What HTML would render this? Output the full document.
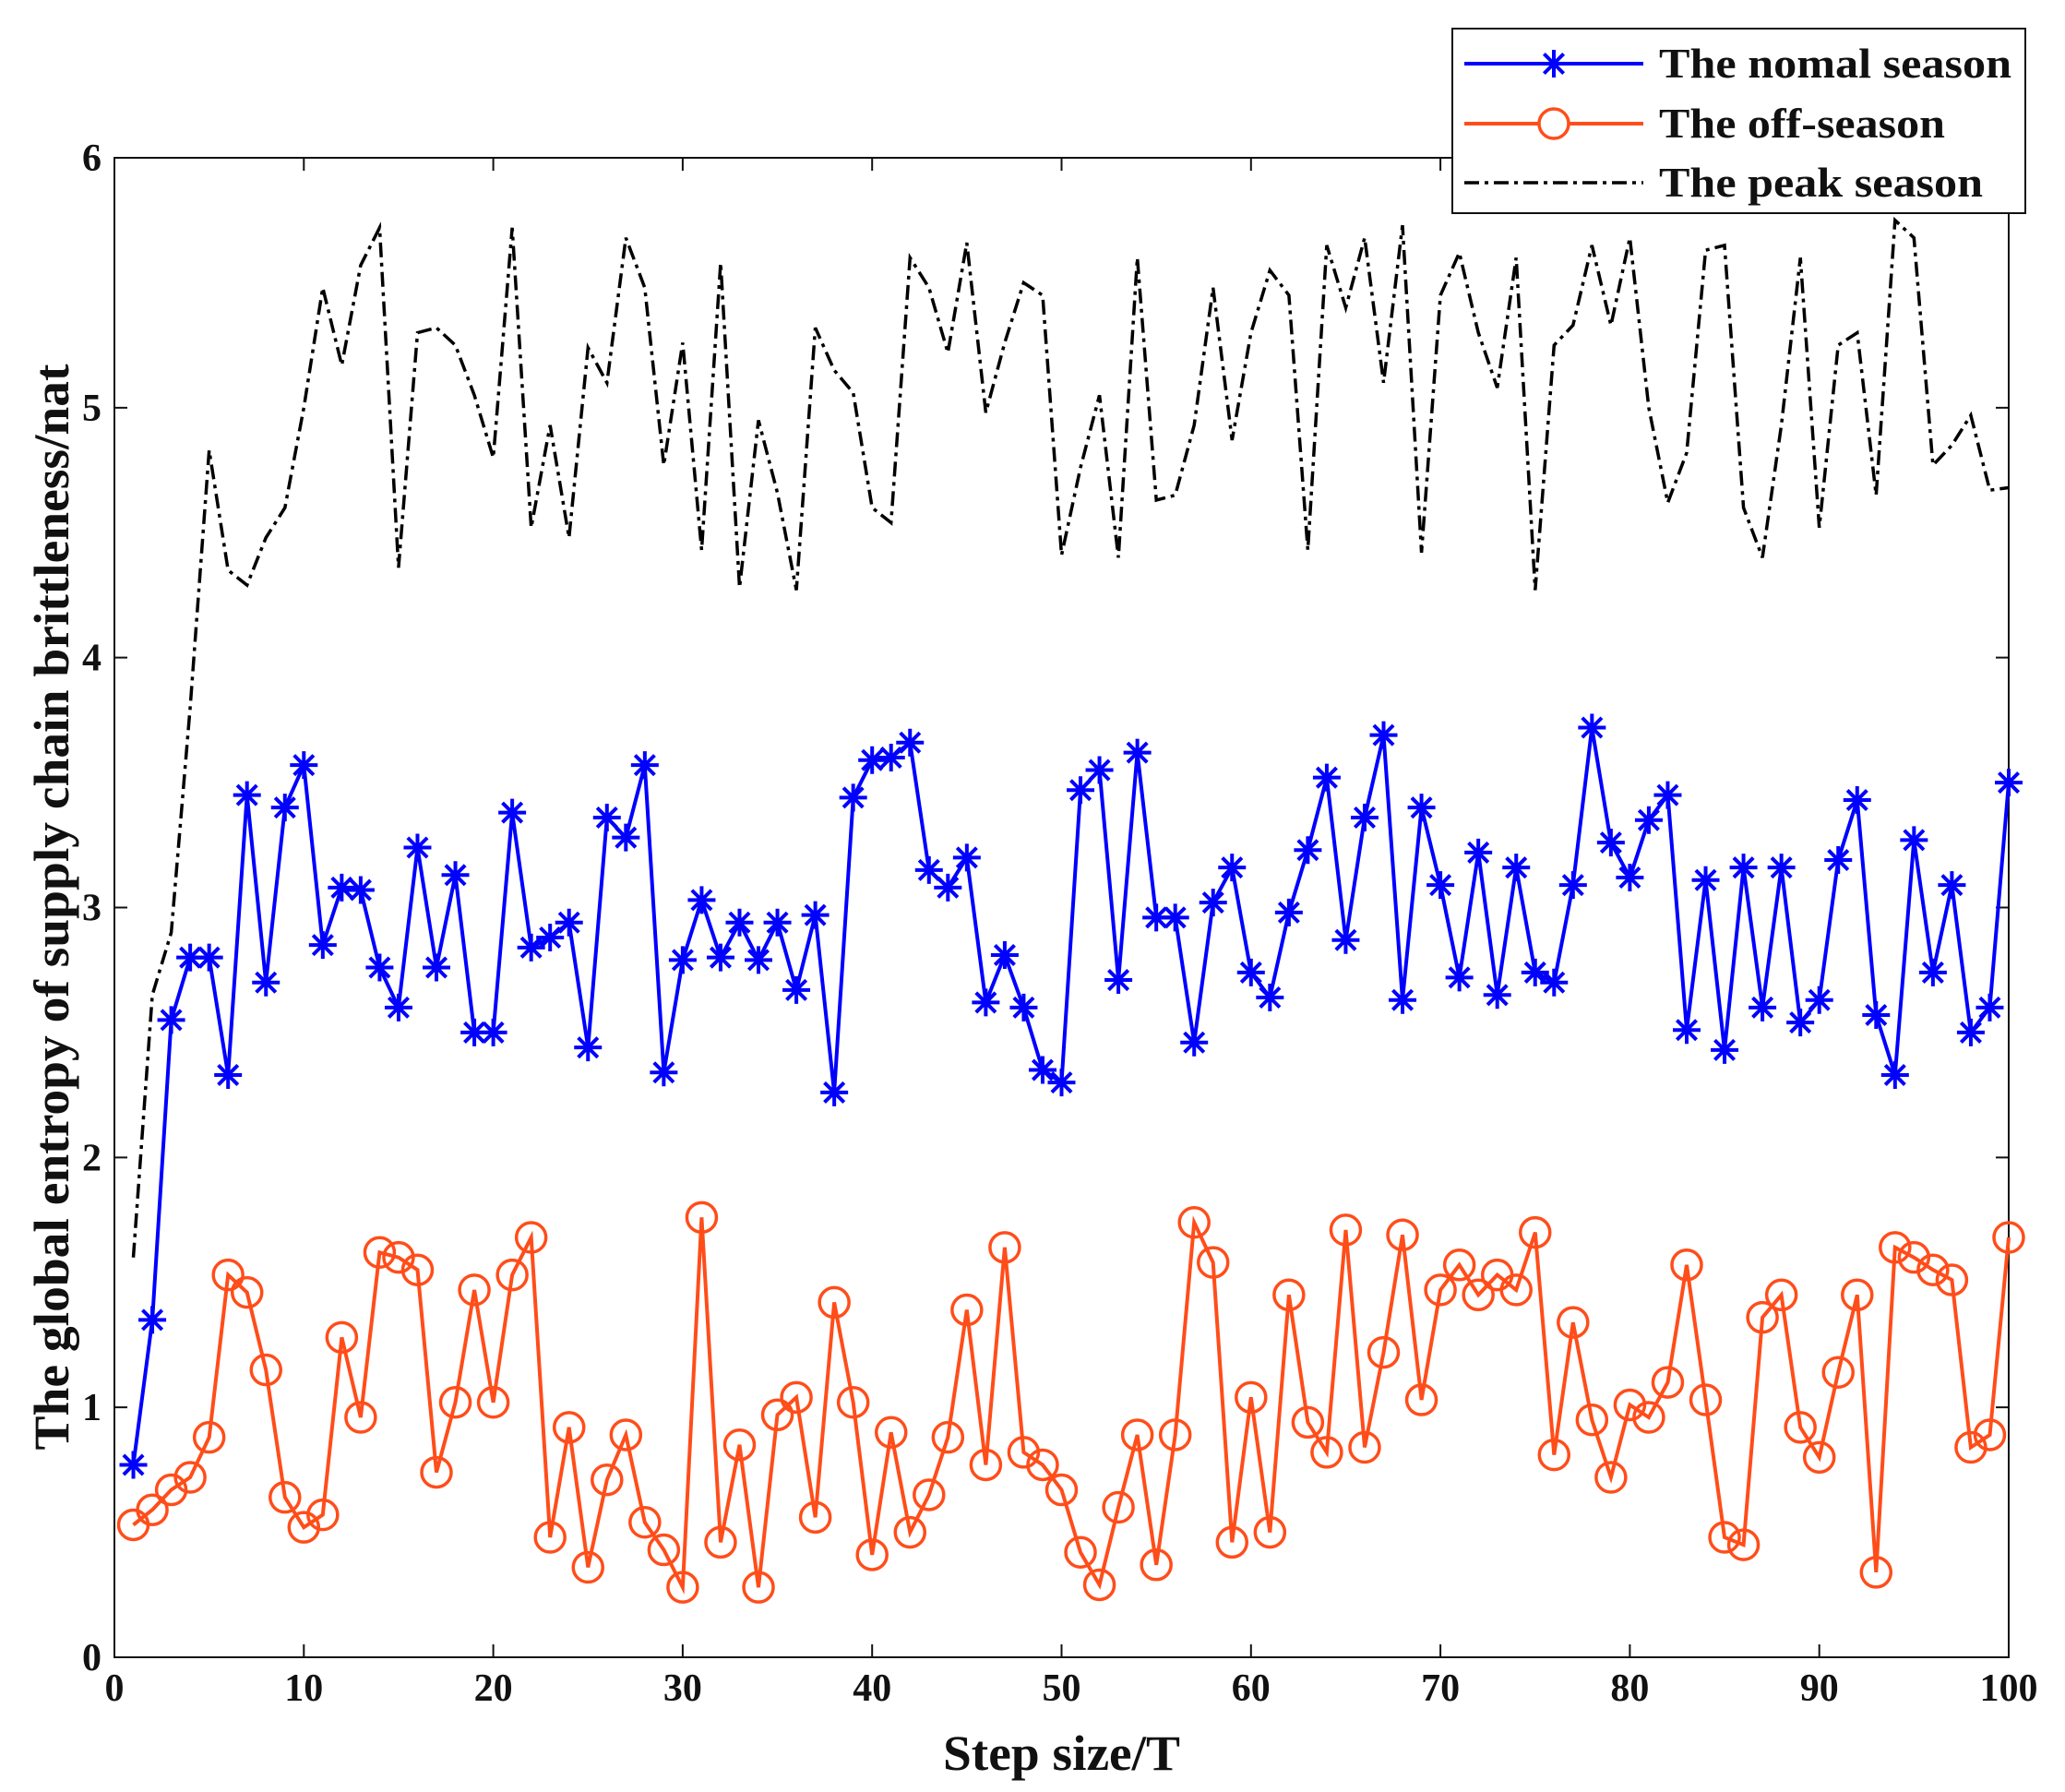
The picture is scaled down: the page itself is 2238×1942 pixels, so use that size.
<!DOCTYPE html>
<html><head><meta charset="utf-8">
<style>
html,body{margin:0;padding:0;background:#fff;}
svg{display:block;}
text{font-family:"Liberation Serif",serif;font-weight:bold;fill:#111;}
</style></head>
<body>
<svg id="chart" width="2238" height="1942" viewBox="0 0 2238 1942" xmlns="http://www.w3.org/2000/svg"></svg>
<script>
const normalSeason=[0.77,1.35,2.55,2.8,2.8,2.33,3.45,2.7,3.4,3.57,2.85,3.08,3.07,2.76,2.6,3.24,2.76,3.13,2.5,2.5,3.38,2.84,2.88,2.94,2.44,3.36,3.28,3.57,2.34,2.79,3.03,2.8,2.94,2.79,2.94,2.67,2.97,2.26,3.44,3.59,3.6,3.66,3.15,3.08,3.2,2.62,2.81,2.6,2.35,2.3,3.47,3.55,2.71,3.62,2.96,2.96,2.46,3.02,3.16,2.74,2.64,2.98,3.23,3.52,2.87,3.36,3.69,2.63,3.4,3.09,2.72,3.22,2.65,3.16,2.74,2.7,3.09,3.72,3.26,3.12,3.35,3.45,2.51,3.11,2.43,3.16,2.6,3.16,2.54,2.63,3.19,3.43,2.57,2.33,3.27,2.74,3.09,2.5,2.6,3.5];
const offSeason=[0.53,0.59,0.67,0.72,0.88,1.53,1.46,1.15,0.64,0.52,0.57,1.28,0.96,1.62,1.6,1.55,0.74,1.02,1.47,1.02,1.53,1.68,0.48,0.92,0.36,0.71,0.89,0.54,0.43,0.28,1.76,0.46,0.85,0.28,0.97,1.04,0.56,1.42,1.02,0.41,0.9,0.5,0.65,0.88,1.39,0.77,1.64,0.82,0.77,0.67,0.42,0.29,0.6,0.89,0.37,0.89,1.74,1.58,0.46,1.04,0.5,1.45,0.94,0.82,1.71,0.84,1.22,1.69,1.03,1.47,1.57,1.45,1.53,1.47,1.7,0.81,1.34,0.95,0.72,1.01,0.96,1.1,1.57,1.03,0.48,0.45,1.36,1.45,0.92,0.8,1.14,1.45,0.34,1.64,1.6,1.55,1.51,0.84,0.89,1.68];
const peakSeason=[1.6,2.65,2.9,3.8,4.83,4.35,4.29,4.48,4.6,5.0,5.48,5.17,5.57,5.72,4.36,5.3,5.32,5.25,5.05,4.8,5.72,4.52,4.93,4.48,5.24,5.1,5.68,5.48,4.77,5.26,4.43,5.58,4.28,4.95,4.66,4.27,5.32,5.15,5.06,4.6,4.54,5.6,5.48,5.22,5.66,4.98,5.26,5.5,5.45,4.41,4.76,5.05,4.4,5.6,4.63,4.65,4.93,5.48,4.87,5.3,5.55,5.45,4.43,5.65,5.4,5.68,5.1,5.73,4.42,5.45,5.62,5.3,5.08,5.6,4.27,5.25,5.33,5.65,5.33,5.68,5.0,4.62,4.82,5.63,5.65,4.6,4.4,4.93,5.6,4.52,5.25,5.3,4.65,5.75,5.68,4.77,4.85,4.97,4.67,4.68];
const xTicks=[0,10,20,30,40,50,60,70,80,90,100];
const yTicks=[0,1,2,3,4,5,6];
const legendLabels=["The nomal season","The off-season","The peak season"];

const NS="http://www.w3.org/2000/svg";
const svg=document.getElementById('chart');
const L=124,R=2177,T=171,B=1796;
const xS=v=>L+(v-0)/(100-0)*(R-L);
const yS=v=>B-(v-0)/(6-0)*(B-T);
function mk(tag,attrs,parent){const e=document.createElementNS(NS,tag);for(const k in attrs)e.setAttribute(k,attrs[k]);(parent||svg).appendChild(e);return e;}

const box=mk('rect',{x:L,y:T,width:R-L,height:B-T,fill:'none',stroke:'#111','stroke-width':2});



xTicks.forEach(t=>{
  const x=xS(t);
  const tk=mk('path',{d:`M${x},${B}v-14M${x},${T}v14`,stroke:'#111','stroke-width':2});
  
  
  const lb=mk('text',{x:x,y:B+47,'font-size':42,'text-anchor':'middle'});
  lb.textContent=t;
  
  
});
yTicks.forEach(t=>{
  const y=yS(t);
  const tk=mk('path',{d:`M${L},${y}h14M${R},${y}h-14`,stroke:'#111','stroke-width':2});
  
  
  const lb=mk('text',{x:L-14,y:y+14,'font-size':42,'text-anchor':'end'});
  lb.textContent=t;
  
  
});

const xt=mk('text',{x:(L+R)/2,y:1918,'font-size':54,'text-anchor':'middle',textLength:257,lengthAdjust:'spacingAndGlyphs'});
xt.textContent='Step size/T';


const yt=mk('text',{x:0,y:0,'font-size':54,'text-anchor':'middle',textLength:1177,lengthAdjust:'spacingAndGlyphs',transform:`translate(74,${983}) rotate(-90)`});
yt.textContent='The global entropy of supply chain brittleness/nat';



function pts(arr){return arr.map((v,i)=>`${xS(i+1).toFixed(1)},${yS(v).toFixed(1)}`).join(' ');}
function star(g,cx,cy,r,col){
  let d='';
  for(let k=0;k<4;k++){const a=k*Math.PI/4;const dx=r*Math.cos(a),dy=r*Math.sin(a);d+=`M${cx-dx},${cy-dy}L${cx+dx},${cy+dy}`;}
  return mk('path',{d:d,stroke:col,'stroke-width':4,fill:'none'},g);
}

const gP=mk('g',{});


const lp=mk('polyline',{points:pts(peakSeason),fill:'none',stroke:'#000','stroke-width':3.5,'stroke-dasharray':'16,6,4,6'},gP);



const gN=mk('g',{});


const ln=mk('polyline',{points:pts(normalSeason),fill:'none',stroke:'#0000ff','stroke-width':4},gN);


normalSeason.forEach((v,i)=>{
  const m=star(gN,xS(i+1),yS(v),15,'#0000ff');
  
  
});

const gO=mk('g',{});


const lo=mk('polyline',{points:pts(offSeason),fill:'none',stroke:'#ff4d1a','stroke-width':4},gO);


offSeason.forEach((v,i)=>{
  const c=mk('circle',{cx:xS(i+1),cy:yS(v),r:16,fill:'none',stroke:'#ff4d1a','stroke-width':3.5},gO);
  
  
});

const gL=mk('g',{});


const lr=mk('rect',{x:1574,y:31,width:621,height:200,fill:'#fff',stroke:'#111','stroke-width':2},gL);


const ly=[69,134,198];
const lw=[382,310,351];
legendLabels.forEach((lab,i)=>{
  const y=ly[i];
  let ln2;
  if(i===0){ln2=mk('line',{x1:1587,y1:y,x2:1781,y2:y,stroke:'#0000ff','stroke-width':4},gL);star(gL,1684,y,15,'#0000ff');}
  else if(i===1){ln2=mk('line',{x1:1587,y1:y,x2:1781,y2:y,stroke:'#ff4d1a','stroke-width':4},gL);mk('circle',{cx:1684,cy:y,r:16,fill:'#fff',stroke:'#ff4d1a','stroke-width':3.5},gL);}
  else{ln2=mk('line',{x1:1587,y1:y,x2:1781,y2:y,stroke:'#000','stroke-width':3.5,'stroke-dasharray':'16,6,4,6'},gL);}
  
  
  const tx=mk('text',{x:1798,y:y+15,'font-size':46,textLength:lw[i],lengthAdjust:'spacingAndGlyphs'},gL);
  tx.textContent=lab;
  
  
});
</script>
</body></html>
